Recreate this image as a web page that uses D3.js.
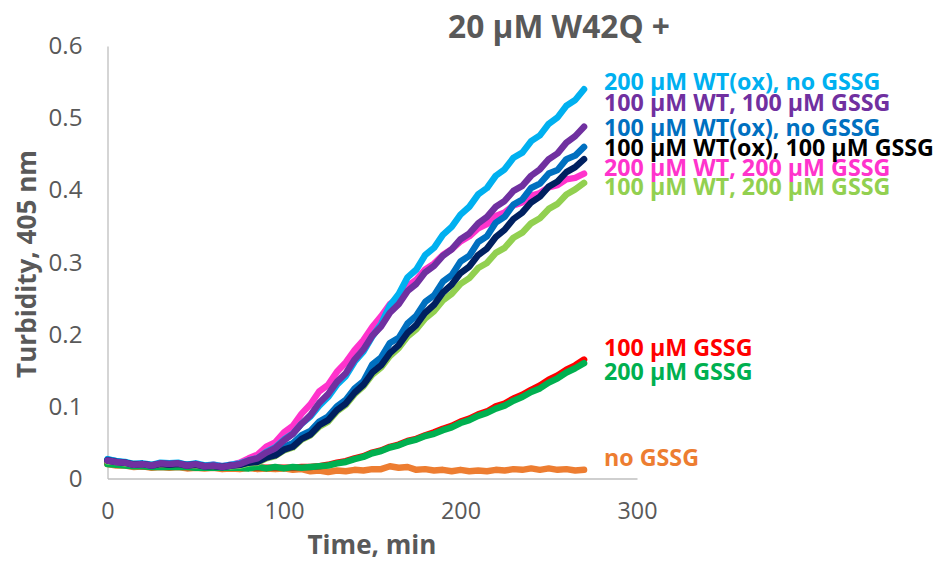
<!DOCTYPE html>
<html>
<head>
<meta charset="utf-8">
<script src="https://cdn.jsdelivr.net/npm/d3@7"></script>
<style>
  html, body { margin: 0; padding: 0; background: #ffffff; }
  svg { display: block; font-family: "Open Sans", "Lato", sans-serif; }
</style>
</head>
<body>
<svg id="chart" width="947" height="563"></svg>
<script>
// ---------------- data ----------------
const titleText = "20 \u00b5M W42Q +";
const xTitle = "Time, min";
const yTitle = "Turbidity, 405 nm";
const xTicks = [0, 100, 200, 300];
const yTicks = [0, 0.1, 0.2, 0.3, 0.4, 0.5, 0.6];
const time = d3.range(0, 271, 5); // minutes, 0..270

const seriesNames = [
  "no GSSG",
  "100 \u00b5M GSSG",
  "200 \u00b5M GSSG",
  "100 \u00b5M WT, 200 \u00b5M GSSG",
  "200 \u00b5M WT, 200 \u00b5M GSSG",
  "200 \u00b5M WT(ox), no GSSG",
  "100 \u00b5M WT(ox), no GSSG",
  "100 \u00b5M WT(ox), 100 \u00b5M GSSG",
  "100 \u00b5M WT, 100 \u00b5M GSSG"
];

const noGSSG = [0.020,0.018,0.018,0.016,0.017,0.015,0.016,0.015,0.016,0.014,0.015,0.014,0.015,0.013,0.014,
  0.013,0.015,0.013,0.014,0.013,0.014,0.012,0.013,0.010,0.011,
  0.009,0.011,0.010,0.012,0.011,0.013,0.013,0.017,0.015,0.016,
  0.012,0.013,0.011,0.012,0.010,0.012,0.010,0.011,0.010,0.012,
  0.011,0.013,0.012,0.014,0.012,0.014,0.012,0.013,0.011,0.012];

const gssg100 = [0.021,0.020,0.019,0.018,0.017,0.017,0.017,0.017,0.017,0.016,0.016,0.016,0.015,0.015,0.015,
  0.015,0.015,0.015,0.015,0.015,0.015,0.015,0.016,0.016,0.017,
  0.019,0.022,0.024,0.028,0.031,0.036,0.039,0.044,0.047,0.052,
  0.055,0.060,0.064,0.069,0.073,0.079,0.083,0.089,0.093,0.100,
  0.104,0.111,0.116,0.123,0.129,0.137,0.143,0.151,0.157,0.165];

const gssg200 = [0.020,0.019,0.018,0.017,0.017,0.016,0.016,0.016,0.016,0.016,0.015,0.015,0.015,0.015,0.015,
  0.015,0.014,0.016,0.014,0.016,0.014,0.016,0.015,0.016,0.017,
  0.018,0.021,0.023,0.027,0.030,0.035,0.038,0.043,0.046,0.051,
  0.054,0.059,0.062,0.067,0.071,0.077,0.081,0.087,0.091,0.097,
  0.101,0.108,0.113,0.120,0.125,0.133,0.139,0.147,0.153,0.160];

const wt100gssg200 = [0.024,0.023,0.021,0.020,0.019,0.019,0.019,0.020,0.020,0.019,0.018,0.018,0.017,0.017,0.017,
  0.018,0.021,0.022,0.028,0.031,0.039,0.043,0.054,0.060,0.072,
  0.079,0.093,0.102,0.117,0.128,0.144,0.154,0.170,0.181,0.197,
  0.207,0.222,0.232,0.247,0.256,0.270,0.278,0.292,0.299,0.313,
  0.320,0.334,0.341,0.354,0.361,0.374,0.381,0.394,0.401,0.410];

const wt200gssg200 = [0.025,0.023,0.022,0.019,0.020,0.018,0.021,0.020,0.021,0.018,0.020,0.017,0.019,0.017,0.019,
  0.022,0.028,0.033,0.044,0.050,0.064,0.073,0.090,0.103,0.121,
  0.130,0.148,0.161,0.178,0.192,0.210,0.225,0.242,0.251,0.267,
  0.276,0.290,0.298,0.310,0.318,0.329,0.336,0.347,0.353,0.364,
  0.369,0.379,0.383,0.392,0.396,0.404,0.407,0.415,0.417,0.423];

const wtox200 = [0.027,0.024,0.023,0.020,0.021,0.019,0.022,0.021,0.022,0.019,0.021,0.018,0.019,0.017,0.019,
  0.021,0.025,0.028,0.037,0.043,0.054,0.062,0.076,0.086,0.101,
  0.113,0.130,0.142,0.162,0.176,0.197,0.214,0.240,0.256,0.279,
  0.290,0.310,0.320,0.338,0.349,0.366,0.377,0.394,0.403,0.420,
  0.429,0.445,0.452,0.468,0.476,0.492,0.501,0.517,0.525,0.540];

const wtox100 = [0.026,0.024,0.022,0.020,0.020,0.018,0.021,0.020,0.021,0.019,0.020,0.017,0.018,0.016,0.018,
  0.019,0.023,0.025,0.031,0.035,0.044,0.049,0.060,0.066,0.079,
  0.086,0.100,0.109,0.125,0.135,0.158,0.168,0.188,0.195,0.215,
  0.226,0.245,0.254,0.273,0.282,0.301,0.309,0.328,0.336,0.355,
  0.363,0.380,0.387,0.403,0.409,0.423,0.428,0.443,0.448,0.460];

const wtox100gssg100 = [0.025,0.023,0.022,0.019,0.020,0.018,0.020,0.019,0.020,0.018,0.019,0.017,0.017,0.016,0.018,
  0.019,0.022,0.023,0.029,0.032,0.040,0.044,0.055,0.061,0.074,
  0.081,0.095,0.104,0.119,0.130,0.147,0.157,0.174,0.185,0.202,
  0.213,0.230,0.241,0.258,0.269,0.285,0.294,0.310,0.319,0.335,
  0.345,0.360,0.369,0.383,0.391,0.405,0.412,0.425,0.432,0.443];

const wt100gssg100 = [0.025,0.023,0.022,0.019,0.020,0.018,0.021,0.020,0.021,0.018,0.020,0.017,0.018,0.016,0.018,
  0.020,0.025,0.028,0.036,0.042,0.053,0.062,0.076,0.088,0.105,
  0.117,0.134,0.146,0.165,0.179,0.198,0.211,0.230,0.242,0.260,
  0.270,0.286,0.295,0.309,0.318,0.332,0.340,0.354,0.363,0.377,
  0.385,0.399,0.406,0.420,0.429,0.443,0.451,0.466,0.475,0.488];

const seriesValues = [noGSSG, gssg100, gssg200, wt100gssg200, wt200gssg200,
                      wtox200, wtox100, wtox100gssg100, wt100gssg100];

// ---------------- styles / layout ----------------
const lineColors = ["#ED7D31", "#FF0000", "#00B050", "#92D050", "#FF33CC",
                    "#00B0F0", "#0070C0", "#002060", "#7030A0"];
const labelColors = ["#ED7D31", "#FF0000", "#00B050", "#92D050", "#FF33CC",
                     "#00B0F0", "#0070C0", "#000000", "#7030A0"];
const labelY = [458, 348, 372, 187, 168, 82, 128, 148, 103]; // pixel centres
const labelX = 604;
const textGray = "#595959";
const axisGray = "#BFBFBF";

const svg = d3.select("#chart");
const x = d3.scaleLinear().domain([0, 300]).range([107.5, 637]);
const y = d3.scaleLinear().domain([0, 0.6]).range([478.5, 46]);

function fitWidth(sel, target) {
  const fs = parseFloat(sel.attr("font-size"));
  const w = sel.node().getComputedTextLength();
  sel.attr("font-size", fs * target / w);
  return fs * target / w;
}

// axes
const xAxis = svg.append("g")
  .attr("transform", `translate(0,${y(0)})`)
  .call(d3.axisBottom(x).tickValues(xTicks).tickSize(0).tickPadding(26).tickFormat(d3.format("d")));
xAxis.select(".domain").attr("stroke", axisGray).attr("stroke-width", 1.3);
xAxis.selectAll("text").attr("fill", textGray).attr("font-size", 22)
  .attr("font-family", "Open Sans").attr("dy", "0.71em");

const yAxis = svg.append("g")
  .attr("transform", `translate(${x(0)},0)`)
  .call(d3.axisLeft(y).tickValues(yTicks).tickSize(0).tickPadding(25)
        .tickFormat(d => d === 0 ? "0" : d3.format(".1f")(d)));
yAxis.select(".domain").attr("stroke", axisGray).attr("stroke-width", 1.3);
yAxis.selectAll("text").attr("fill", textGray).attr("font-size", 22)
  .attr("font-family", "Open Sans");

const xfs = fitWidth(xAxis.selectAll("text").filter(d => d === 200), 40);
xAxis.selectAll("text").attr("font-size", xfs);
const yfs = fitWidth(yAxis.selectAll("text").filter(d => d === 0.6), 34);
yAxis.selectAll("text").attr("font-size", yfs);
xAxis.selectAll("text").attr("y", 24);

// lines
const line = d3.line().x((d, i) => x(time[i])).y(d => y(d)).curve(d3.curveLinear);
svg.append("g").selectAll("path")
  .data(seriesValues)
  .join("path")
  .attr("d", d => line(d))
  .attr("fill", "none")
  .attr("stroke", (d, i) => lineColors[i])
  .attr("stroke-width", 6.5)
  .attr("stroke-linejoin", "round")
  .attr("stroke-linecap", "round");

// series labels
const labels = svg.append("g").selectAll("text")
  .data(seriesNames)
  .join("text")
  .attr("x", labelX)
  .attr("y", (d, i) => labelY[i])
  .attr("dy", "0.35em")
  .attr("fill", (d, i) => labelColors[i])
  .attr("font-weight", "bold")
  .attr("font-size", 18)
  .text(d => d);
const lfs = fitWidth(labels.filter(d => d === "100 \u00b5M WT(ox), 100 \u00b5M GSSG"), 330);
labels.attr("font-size", lfs);

// title
const title = svg.append("text")
  .attr("x", 559).attr("y", 27).attr("dy", "0.35em")
  .attr("text-anchor", "middle")
  .attr("fill", textGray).attr("font-weight", "bold").attr("font-size", 26)
  .text(titleText);
fitWidth(title, 222);

// axis titles
const xt = svg.append("text")
  .attr("x", 372).attr("y", 545).attr("dy", "0.35em")
  .attr("text-anchor", "middle")
  .attr("fill", textGray).attr("font-weight", "bold").attr("font-size", 22)
  .text(xTitle);
fitWidth(xt, 129);

const yt = svg.append("text")
  .attr("transform", "translate(27,264) rotate(-90)")
  .attr("dy", "0.35em")
  .attr("text-anchor", "middle")
  .attr("fill", textGray).attr("font-weight", "bold").attr("font-size", 22)
  .text(yTitle);
fitWidth(yt, 228);
</script>
</body>
</html>
